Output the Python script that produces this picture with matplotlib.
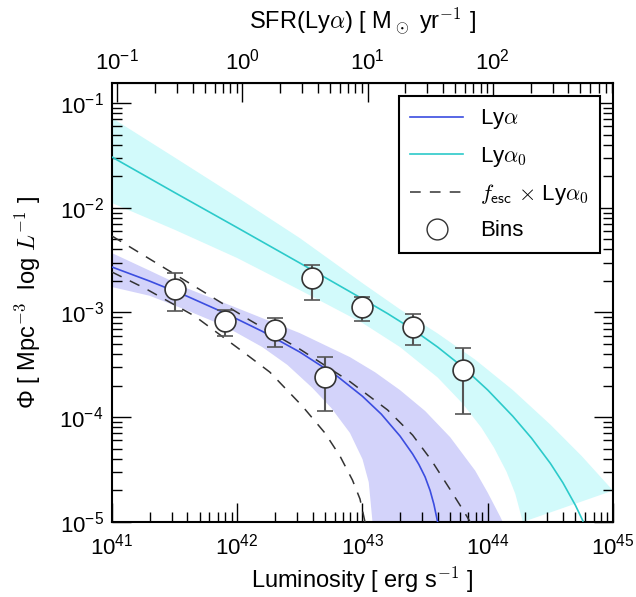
import numpy as np
import matplotlib
matplotlib.use('Agg')
import matplotlib.pyplot as plt
from matplotlib.lines import Line2D
from matplotlib.font_manager import FontProperties
from matplotlib.ticker import FixedLocator

plt.rcParams['font.family'] = ['Liberation Sans', 'DejaVu Sans']
plt.rcParams['mathtext.fontset'] = 'custom'
plt.rcParams['mathtext.rm'] = 'Liberation Sans'
plt.rcParams['mathtext.it'] = 'Liberation Sans:italic'
plt.rcParams['mathtext.bf'] = 'Liberation Sans:bold'

# all values are log10 (luminosity in erg/s, phi in Mpc^-3 logL^-1)
# Lya (observed) fit + band
lya_logL = [41.0, 41.3, 41.6, 41.9, 42.2, 42.5, 42.8, 43.0, 43.15, 43.3, 43.4, 43.45, 43.5,
            43.54, 43.57, 43.6]
lya_logphi = [-2.566, -2.70, -2.845, -3.005, -3.18, -3.378, -3.61, -3.80, -3.97, -4.18, -4.35,
              -4.45, -4.57, -4.70, -4.83, -5.0]
lya_up_logL = [41.0, 41.3, 41.6, 42.0, 42.5, 42.9, 43.1, 43.3, 43.5, 43.7, 43.9, 44.0, 44.1, 44.12]
lya_up_logphi = [-2.433, -2.60, -2.77, -2.958, -3.197, -3.426, -3.57, -3.741, -3.94, -4.19, -4.51,
                 -4.72, -4.95, -5.0]
lya_lo_logL = [41.0, 41.3, 41.6, 41.9, 42.2, 42.4, 42.6, 42.75, 42.9, 43.0, 43.05, 43.08]
lya_lo_logphi = [-2.757, -2.84, -2.98, -3.13, -3.33, -3.50, -3.72, -3.91, -4.15, -4.40, -4.62, -5.0]

# Lya0 (intrinsic) fit + band
lya0_logL = [41.0, 41.5, 42.0, 42.5, 43.0, 43.2, 43.4, 43.6, 43.8, 44.0, 44.2, 44.35, 44.5, 44.6,
             44.7, 44.76]
lya0_logphi = [-1.516, -1.855, -2.19, -2.528, -2.87, -3.01, -3.16, -3.33, -3.52, -3.74, -3.99,
               -4.20, -4.44, -4.625, -4.84, -4.99]
lya0_up_logL = [41.0, 41.5, 42.0, 42.5, 43.0, 43.3, 43.6, 43.9, 44.2, 44.5, 44.75, 45.0]
lya0_up_logphi = [-1.143, -1.52, -1.90, -2.29, -2.72, -2.97, -3.20, -3.45, -3.74, -4.07, -4.37,
                  -4.70]
lya0_lo_logL = [41.0, 41.5, 42.0, 42.5, 43.0, 43.3, 43.6, 43.8, 43.95, 44.05, 44.15, 44.22, 44.28]
lya0_lo_logphi = [-1.955, -2.21, -2.48, -2.786, -3.10, -3.33, -3.62, -3.87, -4.10, -4.29, -4.52,
                  -4.73, -5.0]

# fesc x Lya0 (two dashed curves)
fesc_a_logL = [41.0, 41.25, 41.7, 42.1, 42.5, 42.9, 43.2, 43.4, 43.55, 43.7, 43.8, 43.86]
fesc_a_logphi = [-2.27, -2.452, -2.78, -3.073, -3.35, -3.66, -3.93, -4.17, -4.41, -4.69, -4.88, -5.0]
fesc_b_logL = [41.0, 41.26, 41.66, 42.06, 42.26, 42.52, 42.7, 42.82, 42.92, 42.98, 43.02]
fesc_b_logphi = [-2.614, -2.767, -3.034, -3.388, -3.569, -3.894, -4.15, -4.37, -4.60, -4.78, -5.0]

# binned points
bin_logL = [41.5, 41.9, 42.3, 42.7, 42.6, 43.0, 43.4, 43.8]
bin_logphi = [-2.777, -3.082, -3.168, -3.617, -2.671, -2.948, -3.139, -3.55]
bin_hi = [-2.624, -2.977, -3.053, -3.426, -2.547, -2.853, -3.015, -3.34]
bin_lo = [-2.987, -3.225, -3.33, -3.942, -2.882, -3.082, -3.311, -3.97]

sfr_ticks = [0.1, 1, 10, 100]

blue = '#3b4de0'
cyan = '#2ccaca'


def band(ax, lx_up, ly_up, lx_lo, ly_lo, color):
    xs = np.concatenate([lx_up, lx_lo[::-1]])
    ys = np.concatenate([ly_up, ly_lo[::-1]])
    ax.fill(10 ** xs, 10 ** ys, color=color, lw=0, zorder=1)


fig = plt.figure(figsize=(6.36, 5.97), dpi=100)
ax = fig.add_axes([0.1761, 0.1256, 0.7877, 0.7353])

band(ax, lya0_up_logL, lya0_up_logphi, lya0_lo_logL, lya0_lo_logphi, '#d2fafb')
band(ax, lya_up_logL, lya_up_logphi, lya_lo_logL, lya_lo_logphi, '#d3d3fa')

ax.plot(10 ** np.array(lya_logL), 10 ** np.array(lya_logphi), color=blue, lw=1.2, zorder=3)
ax.plot(10 ** np.array(lya0_logL), 10 ** np.array(lya0_logphi), color=cyan, lw=1.2, zorder=3)
for lx, ly in [(fesc_a_logL, fesc_a_logphi), (fesc_b_logL, fesc_b_logphi)]:
    ax.plot(10 ** np.array(lx), 10 ** np.array(ly), color='#333333', lw=1.1,
            ls=(0, (7, 6)), zorder=3)

bx = 10 ** np.array(bin_logL)
by = 10 ** np.array(bin_logphi)
yerr = [by - 10 ** np.array(bin_lo), 10 ** np.array(bin_hi) - by]
ax.errorbar(bx, by, yerr=yerr, fmt='o', ms=15, mfc='white', mec='#333333', mew=1.2,
            ecolor='#555555', elinewidth=1.5, capsize=5.5, capthick=1.5, zorder=4)

ax.set_xscale('log')
ax.set_yscale('log')
ax.set_xlim(1e41, 1e45)
ax.set_ylim(1e-5, 0.155)
ax.tick_params(which='both', direction='in', top=False, right=True, labelsize=16, width=1)
ax.tick_params(which='major', length=14)
ax.tick_params(which='minor', length=7)
ax.tick_params(axis='x', pad=8)
ax.tick_params(axis='y', pad=6)
for s in ax.spines.values():
    s.set_linewidth(1.5)

sec = ax.secondary_xaxis('top', functions=(lambda x: x * 9.1e-43, lambda x: x / 9.1e-43))
sec.xaxis.set_major_locator(FixedLocator(sfr_ticks))
sec.tick_params(which='both', direction='in', labelsize=16, width=1)
sec.tick_params(which='major', length=14, pad=6)
sec.tick_params(which='minor', length=7)
sec.set_xlabel(r'SFR(Ly$\alpha$) [ M$_\odot$ yr$^{-1}$ ]', fontsize=17, labelpad=14,
               math_fontfamily='cm')

ax.set_xlabel(r'Luminosity [ erg s$^{-1}$ ]', fontsize=17, labelpad=4, math_fontfamily='cm')
ax.set_ylabel(r'Φ [ Mpc$^{-3}$  log $L^{-1}$ ]', fontsize=17, labelpad=12,
              math_fontfamily='cm')

handles = [
    Line2D([], [], color=blue, lw=1.2),
    Line2D([], [], color=cyan, lw=1.2),
    Line2D([], [], color='#333333', lw=1.1, ls=(0, (7, 6))),
    Line2D([], [], ls='none', marker='o', ms=15, mfc='white', mec='#333333', mew=1.0),
]
labels = [r'Ly$\alpha$', r'Ly$\alpha_0$', r'$f_{\mathsf{esc}}$ $\times$ Ly$\alpha_0$', 'Bins']
leg = ax.legend(handles, labels, loc='upper right', fancybox=False, framealpha=1,
                edgecolor='black', handlelength=2.4, handletextpad=0.75, borderaxespad=0.6,
                labelspacing=0.6, borderpad=0.5,
                prop=FontProperties(family=['Liberation Sans', 'DejaVu Sans'], size=16,
                                    math_fontfamily='cm'))
leg.get_frame().set_linewidth(1.5)
leg.set_zorder(6)

fig.savefig('out.png', dpi=100)
